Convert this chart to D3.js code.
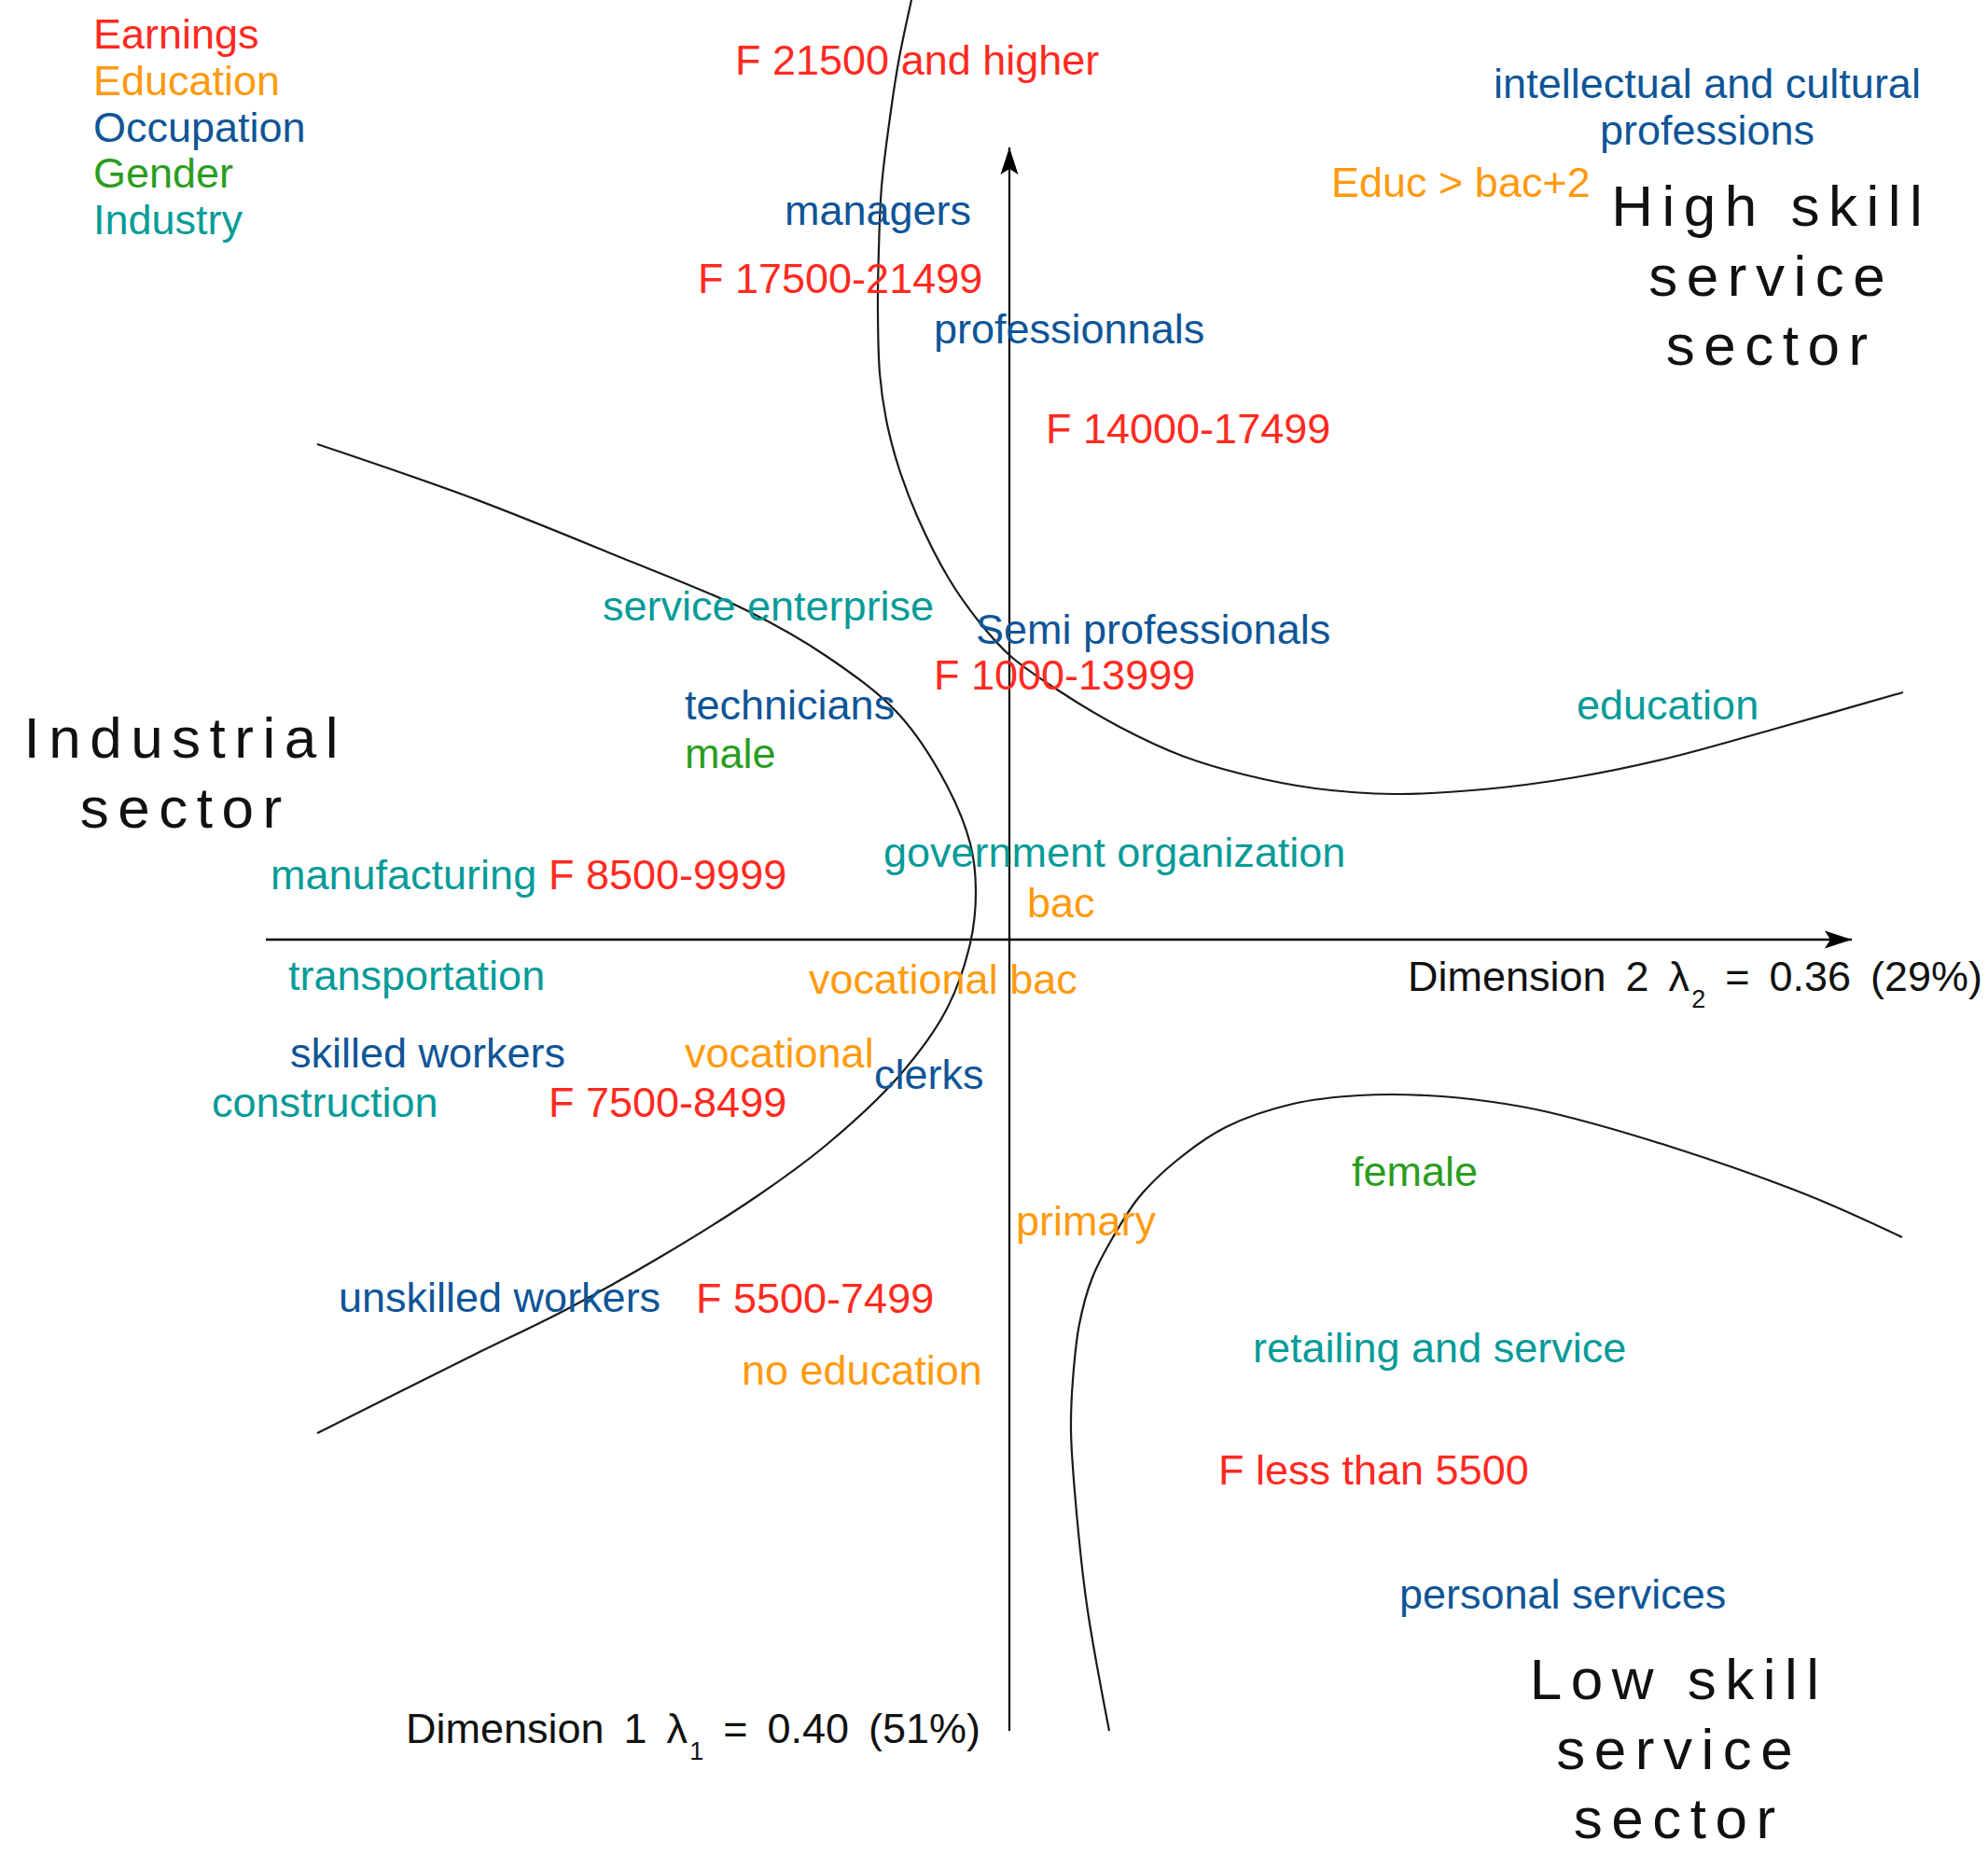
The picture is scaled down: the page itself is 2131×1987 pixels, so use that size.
<!DOCTYPE html>
<html><head><meta charset="utf-8">
<script src="https://cdn.jsdelivr.net/npm/d3@7"></script>
<style>
html,body{margin:0;padding:0;background:#fff;}
svg{display:block;}
text{font-family:"Liberation Sans", Arial, Helvetica, sans-serif;}
</style></head><body>
<svg id="chart" width="2131" height="1987"></svg>
<script>
// ---- Data: category legend ----
const categories = ["Earnings", "Education", "Occupation", "Gender", "Industry"];
const categoryColors = ["#ff2a1f", "#ff9a0e", "#0e5597", "#2a9d1e", "#059b98"];

// ---- Data: modality positions on the map (Dimension 2, Dimension 1) ----
const earningsPoints = [
  { label: "F 21500 and higher", dim2: -2.92, dim1: 9.27 },
  { label: "F 17500-21499", dim2: -3.32, dim1: 6.93 },
  { label: "F 14000-17499", dim2: 0.41, dim1: 5.32 },
  { label: "F 1000-13999", dim2: -0.79, dim1: 2.68 },
  { label: "F 8500-9999", dim2: -4.92, dim1: 0.54 },
  { label: "F 7500-8499", dim2: -4.92, dim1: -1.90 },
  { label: "F 5500-7499", dim2: -3.34, dim1: -4.00 },
  { label: "F less than 5500", dim2: 2.26, dim1: -5.84 }
];
const educationPoints = [
  { label: "Educ > bac+2", dim2: 3.47, dim1: 7.96 },
  { label: "bac", dim2: 0.21, dim1: 0.24 },
  { label: "vocational bac", dim2: -2.13, dim1: -0.58 },
  { label: "vocational", dim2: -3.46, dim1: -1.37 },
  { label: "primary", dim2: 0.09, dim1: -3.17 },
  { label: "no education", dim2: -2.85, dim1: -4.77 }
];
const occupationPoints = [
  { label: "intellectual and cultural|professions", dim2: 7.50, dim1: 9.02, anchor: "middle" },
  { label: "managers", dim2: -2.39, dim1: 7.66 },
  { label: "professionnals", dim2: -0.79, dim1: 6.39 },
  { label: "Semi professionals", dim2: -0.34, dim1: 3.17 },
  { label: "technicians", dim2: -3.46, dim1: 2.36 },
  { label: "skilled workers", dim2: -7.69, dim1: -1.37 },
  { label: "clerks", dim2: -1.43, dim1: -1.60 },
  { label: "unskilled workers", dim2: -7.17, dim1: -3.99 },
  { label: "personal services", dim2: 4.20, dim1: -7.17 }
];
const genderPoints = [
  { label: "male", dim2: -3.46, dim1: 1.84 },
  { label: "female", dim2: 3.69, dim1: -2.64 }
];
const industryPoints = [
  { label: "service enterprise", dim2: -4.34, dim1: 3.42 },
  { label: "education", dim2: 6.10, dim1: 2.36 },
  { label: "government organization", dim2: -1.33, dim1: 0.78 },
  { label: "manufacturing", dim2: -7.90, dim1: 0.54 },
  { label: "transportation", dim2: -7.71, dim1: -0.54 },
  { label: "construction", dim2: -8.53, dim1: -1.90 },
  { label: "retailing and service", dim2: 2.63, dim1: -4.53 }
];

// ---- Data: hand-drawn boundary curves (Dimension 2, Dimension 1) ----
const boundaryHighSkill = [
  [-1.05, 10.07], [-1.19, 9.40], [-1.29, 8.74], [-1.37, 8.07], [-1.40, 7.40], [-1.41, 6.74],
  [-1.39, 6.07], [-1.32, 5.57], [-1.19, 5.07], [-0.99, 4.54], [-0.65, 3.87], [-0.32, 3.40],
  [0.01, 3.04], [0.51, 2.68], [1.18, 2.28], [1.85, 1.97], [2.51, 1.77], [3.28, 1.62],
  [4.13, 1.56], [5.08, 1.61], [6.07, 1.74], [7.08, 1.95], [8.21, 2.26], [9.58, 2.65]
];
const boundaryIndustrial = [
  [-7.42, 5.31], [-5.78, 4.74], [-4.25, 4.13], [-2.82, 3.53], [-1.95, 3.03], [-1.19, 2.42],
  [-0.68, 1.67], [-0.42, 1.03], [-0.36, 0.53], [-0.42, -0.04], [-0.68, -0.76], [-1.19, -1.47],
  [-1.95, -2.19], [-2.72, -2.76], [-3.74, -3.40], [-4.76, -3.97], [-5.78, -4.47], [-7.42, -5.29]
];
const boundaryLowSkill = [
  [1.07, -8.48], [0.83, -7.13], [0.71, -6.03], [0.66, -5.26], [0.68, -4.72],
  [0.75, -4.12], [0.89, -3.62], [1.11, -3.19], [1.39, -2.76], [1.79, -2.37], [2.32, -2.01],
  [3.04, -1.76], [3.75, -1.67], [4.47, -1.67], [5.18, -1.74], [5.78, -1.85], [7.12, -2.23],
  [8.56, -2.74], [9.57, -3.19]
];

// ---- Data: axes extents and axis titles ----
const axisDim2Extent = [-7.97, 9.03];
const axisDim1Extent = [-8.48, 8.49];
const axisTitles = [
  { name: "Dimension 2", sub: "2", eigen: "0.36", pct: "29%", dim2: 4.27, dim1: -0.55 },
  { name: "Dimension 1", sub: "1", eigen: "0.40", pct: "51%", dim2: -6.47, dim1: -8.61 }
];

// ---- Data: sector annotations ----
const sectorLabels = [
  { lines: ["High skill", "service", "sector"], dim2: 8.12, dim1: 7.65 },
  { lines: ["Industrial", "sector"], dim2: -8.88, dim1: 1.95 },
  { lines: ["Low skill", "service", "sector"], dim2: 7.13, dim1: -8.14 }
];

// ---- Scales ----
const W = 2131, H = 1987;
const x = d3.scaleLinear().domain([-10.82, 10.49]).range([0, W]);
const y = d3.scaleLinear().domain([10.07, -9.80]).range([0, H]);
const color = d3.scaleOrdinal().domain(categories).range(categoryColors);
const legendY = d3.scalePoint().domain(categories).range([52, 251]);

const svg = d3.select("#chart");

// arrow marker
svg.append("defs").append("marker")
  .attr("id", "arrow")
  .attr("viewBox", "-30 -11 31 22")
  .attr("markerUnits", "userSpaceOnUse")
  .attr("markerWidth", 31).attr("markerHeight", 22)
  .attr("refX", 0).attr("refY", 0)
  .attr("orient", "auto")
  .append("path")
  .attr("d", "M0,0 L-29,-9.5 L-23,0 L-29,9.5 Z")
  .attr("fill", "#000");

// ---- Axes ----
svg.append("line")
  .attr("x1", x(axisDim2Extent[0])).attr("x2", x(axisDim2Extent[1]))
  .attr("y1", y(0)).attr("y2", y(0))
  .attr("stroke", "#000").attr("stroke-width", 2.6)
  .attr("marker-end", "url(#arrow)");
svg.append("line")
  .attr("x1", x(0)).attr("x2", x(0))
  .attr("y1", y(axisDim1Extent[0])).attr("y2", y(axisDim1Extent[1]))
  .attr("stroke", "#000").attr("stroke-width", 2.2)
  .attr("marker-end", "url(#arrow)");

// ---- Boundary curves ----
const curveLine = d3.line()
  .x(d => x(d[0])).y(d => y(d[1]))
  .curve(d3.curveCatmullRom.alpha(0.5));
svg.selectAll("path.boundary")
  .data([boundaryHighSkill, boundaryIndustrial, boundaryLowSkill])
  .join("path")
  .attr("class", "boundary")
  .attr("d", curveLine)
  .attr("fill", "none")
  .attr("stroke", "#1a1a1a")
  .attr("stroke-width", 2.2);

// ---- Modality labels ----
const groups = [
  ["Earnings", earningsPoints],
  ["Education", educationPoints],
  ["Occupation", occupationPoints],
  ["Gender", genderPoints],
  ["Industry", industryPoints]
];
groups.forEach(([cat, pts]) => {
  const t = svg.append("g").selectAll("text")
    .data(pts).join("text")
    .attr("x", d => x(d.dim2) - 2)
    .attr("y", d => y(d.dim1))
    .attr("fill", color(cat))
    .attr("font-size", 45)
    .attr("text-anchor", d => d.anchor || "start");
  t.each(function (d) {
    const parts = d.label.split("|");
    const sel = d3.select(this);
    parts.forEach((p, i) => {
      sel.append("tspan")
        .attr("x", x(d.dim2) - 2)
        .attr("dy", i === 0 ? 0 : 50)
        .text(p);
    });
  });
});

// ---- Legend ----
svg.append("g").selectAll("text")
  .data(categories).join("text")
  .attr("x", 100)
  .attr("y", d => legendY(d))
  .attr("fill", d => color(d))
  .attr("font-size", 45)
  .text(d => d);

// ---- Axis titles ----
axisTitles.forEach(a => {
  const t = svg.append("text")
    .attr("x", x(a.dim2)).attr("y", y(a.dim1))
    .attr("fill", "#111").attr("font-size", 45)
    .attr("word-spacing", 8.5);
  t.append("tspan").text(a.name + " \u03BB");
  t.append("tspan").attr("font-size", 27).attr("dy", 18).attr("dx", 2).text(a.sub);
  t.append("tspan").attr("dy", -18).text(" = " + a.eigen + " (" + a.pct + ")");
});

// ---- Sector annotations ----
sectorLabels.forEach(s => {
  const t = svg.append("text")
    .attr("x", x(s.dim2)).attr("y", y(s.dim1))
    .attr("fill", "#111").attr("font-size", 62)
    .attr("letter-spacing", 9.5)
    .attr("text-anchor", "middle");
  s.lines.forEach((ln, i) => {
    t.append("tspan")
      .attr("x", x(s.dim2) + 4.75)
      .attr("dy", i === 0 ? 0 : 74.5)
      .text(ln);
  });
});
</script>
</body></html>
